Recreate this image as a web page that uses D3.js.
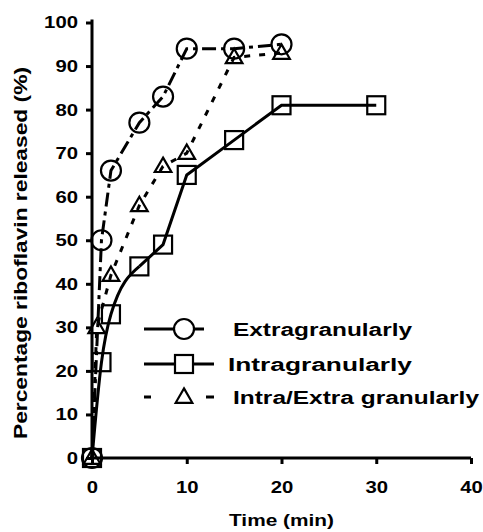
<!DOCTYPE html>
<html>
<head>
<meta charset="utf-8">
<script src="https://cdn.jsdelivr.net/npm/d3@7"></script>
<style>
  body { margin: 0; background: #fff; }
  text { font-family: "Liberation Sans", Arial, sans-serif; font-weight: bold; fill: #000; }
</style>
</head>
<body>
<svg id="chart" width="483" height="532"></svg>
<script>
// data
var extraTime = [0, 1, 2, 5, 7.5, 10, 15, 20];
var extraPct  = [0, 50, 66, 77, 83, 94, 94, 95];
var intraTime = [0, 1, 2, 5, 7.5, 10, 15, 20, 30];
var intraPct  = [0, 22, 33, 44, 49, 65, 73, 81, 81];
var mixTime   = [0, 0.5, 2, 5, 7.5, 10, 15, 20];
var mixPct    = [0, 30, 42, 58, 67, 70, 92, 93];
var xTicks = [0, 10, 20, 30, 40];
var yTicks = [0, 10, 20, 30, 40, 50, 60, 70, 80, 90, 100];
var seriesNames = ["Extragranularly", "Intragranularly", "Intra/Extra granularly"];

var svg = d3.select("#chart");

var x = d3.scaleLinear().domain([0, 40]).range([92, 471]);
var y = d3.scaleLinear().domain([0, 100]).range([458, 22.5]);

function zip(t, v) {
	return t.map(function (d, i) { return { t: d, v: v[i] }; });
}

// smooth = how many leading points are drawn as a smoothed curve
var series = [
	{ name: seriesNames[0], data: zip(extraTime, extraPct), dash: "14,5,4,5", shape: "circle", smooth: 0 },
	{ name: seriesNames[1], data: zip(intraTime, intraPct), dash: null, shape: "square", smooth: 4 },
	{ name: seriesNames[2], data: zip(mixTime, mixPct), dash: "6,9", shape: "triangle", smooth: 0 }
];

// the original print uses a wide bold face, so stretch glyphs a bit
function widen(sel, perChar) {
	sel.each(function () {
		var t = d3.select(this);
		t.attr("textLength", t.text().length * perChar).attr("lengthAdjust", "spacingAndGlyphs");
	});
}

// axes
var xAxis = svg.append("g")
	.attr("transform", "translate(0," + y(0) + ")")
	.call(d3.axisBottom(x).tickValues(xTicks).tickSize(6).tickPadding(17));
var yAxis = svg.append("g")
	.attr("transform", "translate(" + x(0) + ",0)")
	.call(d3.axisLeft(y).tickValues(yTicks).tickSize(6).tickPadding(8));

[xAxis, yAxis].forEach(function (a) {
	a.select(".domain").attr("stroke", "#000").attr("stroke-width", 3);
	a.selectAll(".tick line").attr("stroke", "#000").attr("stroke-width", 3);
	a.selectAll(".tick text").style("font-size", "17px").style("font-weight", "bold")
		.style("font-family", "'Liberation Sans', Arial, sans-serif")
		.call(widen, 11.3);
});
yAxis.select(".domain").attr("d", "M0," + (y(100) - 3) + "V" + (y(0) + 2));
xAxis.select(".domain").attr("d", "M" + (x(0) - 2) + ",0H" + x(40));

// axis titles
svg.append("text")
	.attr("x", (x(0) + x(40)) / 2).attr("y", 526)
	.attr("text-anchor", "middle")
	.style("font-size", "17px")
	.attr("textLength", 105).attr("lengthAdjust", "spacingAndGlyphs")
	.text("Time (min)");

svg.append("text")
	.attr("transform", "translate(27,253) rotate(-90)")
	.attr("text-anchor", "middle")
	.style("font-size", "18px")
	.attr("textLength", 372).attr("lengthAdjust", "spacingAndGlyphs")
	.text("Percentage riboflavin released (%)");

// markers
function drawMarker(g, shape, cx, cy) {
	if (shape === "circle") {
		g.append("circle").attr("cx", cx).attr("cy", cy).attr("r", 10);
	} else if (shape === "square") {
		g.append("rect").attr("x", cx - 9).attr("y", cy - 9).attr("width", 18).attr("height", 18);
	} else {
		g.append("path").attr("d", d3.symbol().type(d3.symbolTriangle).size(120)())
			.attr("transform", "translate(" + cx + "," + (cy + 1) + ")");
	}
}

series.forEach(function (s) {
	var lineLin = d3.line()
		.x(function (d) { return x(d.t); })
		.y(function (d) { return y(d.v); });
	var lineSmooth = d3.line()
		.curve(d3.curveMonotoneX)
		.x(function (d) { return x(d.t); })
		.y(function (d) { return y(d.v); });

	var parts = s.smooth > 1
		? [[s.data.slice(0, s.smooth), lineSmooth], [s.data.slice(s.smooth - 1), lineLin]]
		: [[s.data, lineLin]];

	parts.forEach(function (p) {
		svg.append("path")
			.datum(p[0])
			.attr("d", p[1])
			.attr("fill", "none")
			.attr("stroke", "#000")
			.attr("stroke-width", 3)
			.attr("stroke-dasharray", s.dash);
	});

	var g = svg.append("g")
		.attr("fill", "none")
		.attr("stroke", "#000")
		.attr("stroke-width", 2.2);
	s.data.forEach(function (d) {
		drawMarker(g, s.shape, x(d.t), y(d.v));
	});
});

// legend
var legendY = [329, 364, 397];
var legendLen = [179, 184, 246];
series.forEach(function (s, i) {
	var ly = legendY[i];
	var lg = svg.append("g");
	lg.append("line")
		.attr("x1", 144).attr("x2", 214)
		.attr("y1", ly).attr("y2", ly)
		.attr("stroke", "#000").attr("stroke-width", 3)
		.attr("stroke-dasharray", i === 0 ? "30,20,10,50" : (i === 2 ? "7,25,0,30,8,50" : null));
	var mg = lg.append("g").attr("fill", "#fff").attr("stroke", "#000").attr("stroke-width", 2.2);
	drawMarker(mg, s.shape, 184, ly);
	lg.append("text")
		.attr("x", i === 1 ? 228 : 233).attr("y", ly + 7)
		.style("font-size", "18px")
		.attr("textLength", legendLen[i]).attr("lengthAdjust", "spacingAndGlyphs")
		.text(s.name);
});
</script>
</body>
</html>
